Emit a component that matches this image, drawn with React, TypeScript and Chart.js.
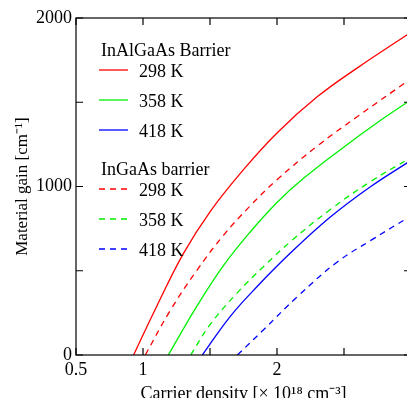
import React, { useEffect, useRef } from 'react';
import { Chart, registerables } from 'chart.js';

Chart.register(...registerables);

const FONT = "'Liberation Serif', 'Times New Roman', serif";

// Axis ticks
const xTickLabels = [0.5, 1, 2, 3];
const yTickLabels = [0, 1000, 2000];

// Legend texts
const groupHeaders = ['InAlGaAs Barrier', 'InGaAs barrier'];
const tempLabels = ['298 K', '358 K', '418 K'];
const colors = ['#ff0000', '#00f000', '#0000ff'];

// InAlGaAs barrier (solid)
const inalgaas298X = [0.93, 1.1, 1.3, 1.5, 1.75, 2.0, 2.3, 2.6, 3.0];
const inalgaas298Y = [0, 285, 600, 850, 1100, 1318, 1532, 1704, 1915];
const inalgaas358X = [1.189, 1.4, 1.6, 1.8, 2.0, 2.2, 2.5, 2.75, 3.0];
const inalgaas358Y = [0, 287, 530, 730, 905, 1050, 1235, 1380, 1515];
const inalgaas418X = [1.443, 1.65, 1.85, 2.1, 2.4, 2.7, 3.0];
const inalgaas418Y = [0, 228, 405, 605, 820, 1000, 1155];

// InGaAs barrier (dashed)
const ingaas298X = [1.017, 1.2, 1.4, 1.6, 1.8, 2.0, 2.3, 2.6, 3.0];
const ingaas298Y = [0, 260, 500, 710, 885, 1040, 1240, 1415, 1640];
const ingaas358X = [1.356, 1.5, 1.7, 1.9, 2.1, 2.4, 2.7, 3.0];
const ingaas358Y = [0, 180, 366, 525, 672, 865, 1030, 1172];
const ingaas418X = [1.704, 1.9, 2.15, 2.45, 2.7, 3.0];
const ingaas418Y = [0, 150, 345, 552, 680, 826];

const toPts = (xs: number[], ys: number[]) => xs.map((x, i) => ({ x, y: ys[i] }));

const framePlugin = {
  id: 'frame',
  afterDatasetsDraw(chart: any) {
    const { ctx, chartArea: a, scales } = chart;
    ctx.save();
    ctx.strokeStyle = '#000';
    ctx.lineWidth = 1.2;
    ctx.strokeRect(a.left, a.top, a.right - a.left, a.bottom - a.top);
    const L = 7;
    ctx.beginPath();
    scales.x.ticks.forEach((t: any) => {
      const px = scales.x.getPixelForValue(t.value);
      ctx.moveTo(px, a.bottom);
      ctx.lineTo(px, a.bottom - L);
      ctx.moveTo(px, a.top);
      ctx.lineTo(px, a.top + L);
    });
    scales.y.ticks.forEach((t: any) => {
      const py = scales.y.getPixelForValue(t.value);
      ctx.moveTo(a.left, py);
      ctx.lineTo(a.left + L, py);
      ctx.moveTo(a.right, py);
      ctx.lineTo(a.right - L, py);
    });
    ctx.stroke();
    ctx.restore();
  },
};

const legendPlugin = {
  id: 'groupLegend',
  afterDraw(chart: any) {
    const { ctx } = chart;
    const ds = chart.data.datasets;
    ctx.save();
    ctx.font = `18px ${FONT}`;
    ctx.fillStyle = '#000';
    ctx.textBaseline = 'alphabetic';
    const headerY = [48, 167];
    const lineYs = [[62, 92, 122], [181, 211, 241]];
    for (let g = 0; g < 2; g++) {
      ctx.fillText(groupHeaders[g], 93, headerY[g]);
      for (let i = 0; i < 3; i++) {
        const d = ds[g * 3 + i];
        const y = lineYs[g][i];
        ctx.save();
        ctx.strokeStyle = d.borderColor;
        ctx.lineWidth = d.borderWidth;
        ctx.setLineDash(d.borderDash || []);
        ctx.beginPath();
        ctx.moveTo(91, y);
        ctx.lineTo(120, y);
        ctx.stroke();
        ctx.restore();
        ctx.fillText(d.label, 131, y + 7);
      }
    }
    ctx.restore();
  },
};

export default function App() {
  const ref = useRef<HTMLCanvasElement>(null);
  useEffect(() => {
    Chart.defaults.font.family = FONT;
    Chart.defaults.color = '#000';
    const mk = (label: string, xs: number[], ys: number[], color: string, dashed: boolean) => ({
      label,
      data: toPts(xs, ys),
      borderColor: color,
      backgroundColor: color,
      borderWidth: 1.3,
      borderDash: dashed ? [6, 5] : [],
      pointRadius: 0,
      fill: false,
      tension: 0.4,
    });
    const datasets = [
      mk(tempLabels[0], inalgaas298X, inalgaas298Y, colors[0], false),
      mk(tempLabels[1], inalgaas358X, inalgaas358Y, colors[1], false),
      mk(tempLabels[2], inalgaas418X, inalgaas418Y, colors[2], false),
      mk(tempLabels[0], ingaas298X, ingaas298Y, colors[0], true),
      mk(tempLabels[1], ingaas358X, ingaas358Y, colors[1], true),
      mk(tempLabels[2], ingaas418X, ingaas418Y, colors[2], true),
    ];
    const chart = new Chart(ref.current!, {
      type: 'line',
      data: { datasets },
      options: {
        animation: false,
        responsive: false,
        layout: { padding: { top: 10, right: 17, left: 0, bottom: 0 } },
        plugins: { legend: { display: false }, tooltip: { enabled: false } },
        scales: {
          x: {
            type: 'linear',
            min: 0.5,
            max: 3,
            grid: { display: false, drawTicks: false },
            border: { display: false },
            ticks: {
              stepSize: 0.5,
              autoSkip: false,
              maxRotation: 0,
              padding: 4,
              font: { size: 18, family: FONT },
              color: '#000',
              callback: (v: any) => (xTickLabels.includes(Number(v)) ? String(v) : ''),
            },
            title: {
              display: true,
              text: 'Carrier density [× 10¹⁸ cm⁻³]',
              font: { size: 18, family: FONT },
              color: '#000',
              padding: { top: 0, bottom: 3 },
            },
            afterFit: (s: any) => {
              s.height = 53;
              s.paddingLeft = 0;
              s.paddingRight = 0;
            },
          },
          y: {
            type: 'linear',
            min: 0,
            max: 2000,
            grid: { display: false, drawTicks: false },
            border: { display: false },
            ticks: {
              stepSize: 500,
              autoSkip: false,
              padding: 4,
              font: { size: 18, family: FONT },
              color: '#000',
              callback: (v: any) => (yTickLabels.includes(Number(v)) ? String(v) : ''),
            },
            title: {
              display: true,
              text: 'Material gain [cm⁻¹]',
              font: { size: 17, family: FONT },
              color: '#000',
              padding: { top: 4, bottom: 0 },
            },
            afterFit: (s: any) => {
              s.width = 68;
              s.paddingTop = 0;
              s.paddingBottom = 0;
            },
          },
        },
      },
      plugins: [framePlugin, legendPlugin],
    } as any);
    return () => chart.destroy();
  }, []);
  return (
    <div style={{ position: 'absolute', left: 8, top: 8, width: 399, height: 390, overflow: 'hidden' }}>
      <canvas ref={ref} width={420} height={400} style={{ display: 'block' }} />
    </div>
  );
}
